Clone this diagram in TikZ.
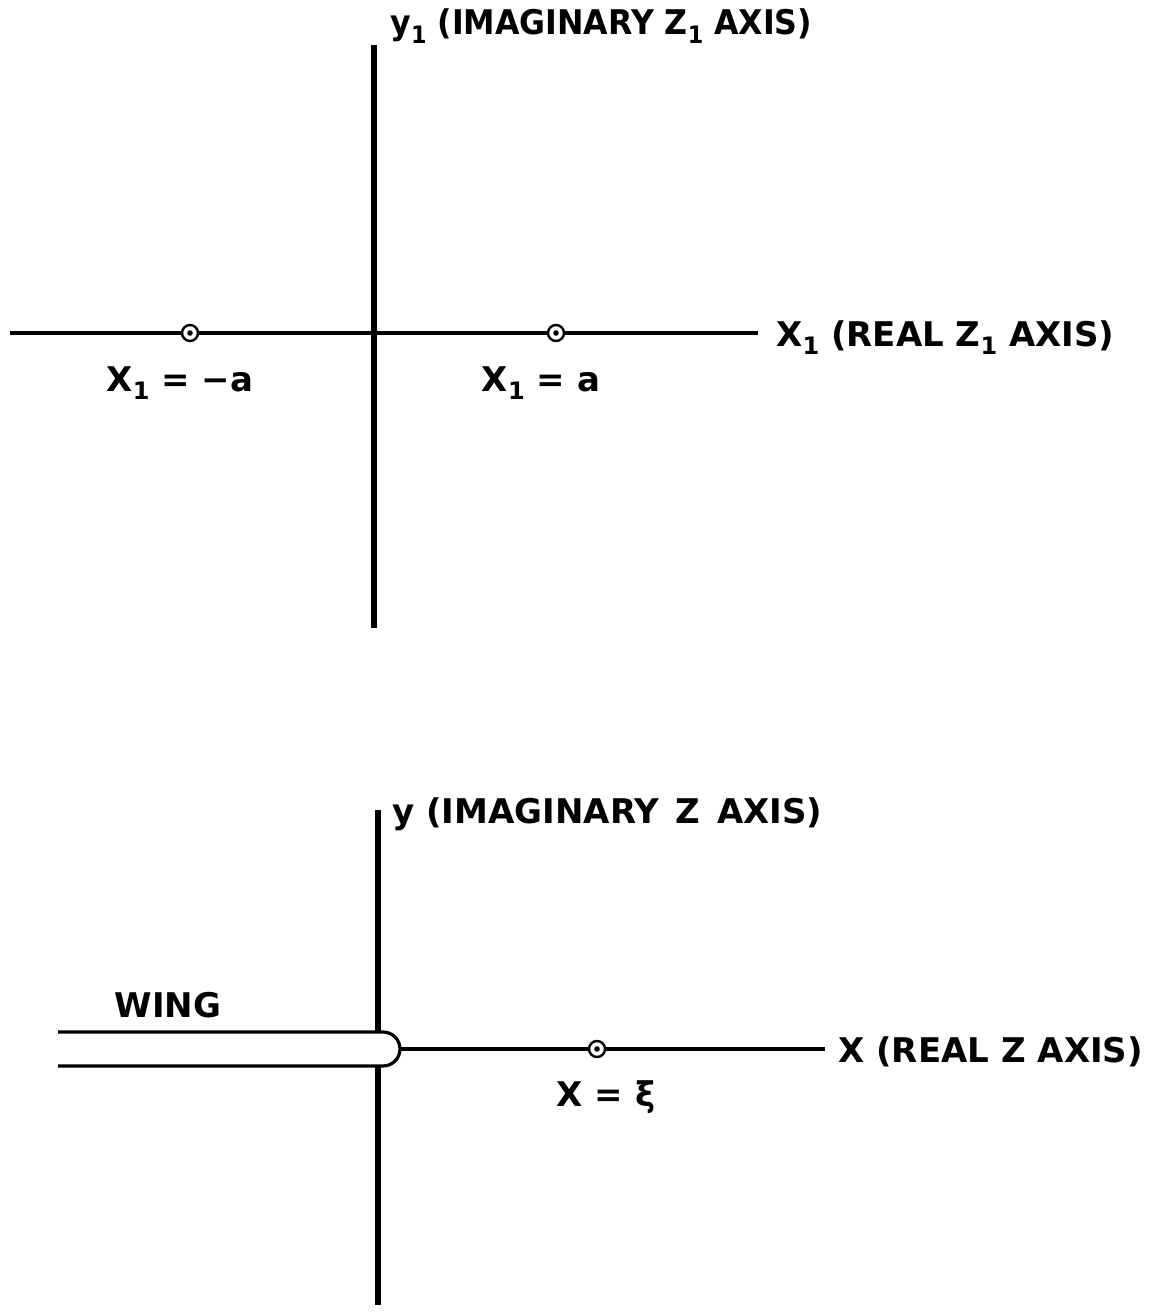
\documentclass[tikz,border=0pt]{standalone}
\usepackage{fontspec}
\setmainfont{DejaVu Sans}
\newcommand\lowidx[1]{\raisebox{-0.45ex}{\fontsize{12}{12}\selectfont #1}}
\begin{document}
\begin{tikzpicture}[x=0.5pt,y=-0.5pt,
  lbl/.style={font=\bfseries\fontsize{17}{19}\selectfont, inner sep=0pt},
  thinaxis/.style={line width=1.6pt},
  thickaxis/.style={line width=3pt},
  wingline/.style={line width=1.6pt},
  ptmark/.style={circle, draw, line width=1.2pt, fill=white, minimum size=8pt, inner sep=0pt,
    path picture={\fill[black] (path picture bounding box.center) circle (1.4pt);}},
]
\useasboundingbox (0,0) rectangle (1163,1316);

% ---------- top: z1 plane ----------
\coordinate (t1) at (374,45);
\coordinate (t2) at (374,628);
\coordinate (h1) at (10,333);
\coordinate (h2) at (758,333);
\draw[thinaxis] (h1) -- (h2);
\draw[thickaxis] (t1) -- (t2);
\node[ptmark] (pa) at (190,333) {};
\node[ptmark] (pb) at (556,333) {};
\node[lbl, anchor=base west] (ylab) at (390,35) {\scalebox{0.93}[1]{y\lowidx{1} (IMAGINARY Z\lowidx{1} AXIS)}};
\node[lbl, anchor=base west] (xlab) at (776,346) {X\lowidx{1} (REAL Z\lowidx{1} AXIS)};
\node[lbl, anchor=base] (la) at (180,391) {X\lowidx{1} = −a};
\node[lbl, anchor=base] (lb) at (541,391) {X\lowidx{1} = a};

% ---------- bottom: z plane ----------
\coordinate (v1) at (378,810);
\coordinate (v2) at (378,1305);
\coordinate (w1) at (58,1032);
\coordinate (w2) at (383,1032);
\coordinate (w3) at (383,1066);
\coordinate (w4) at (58,1066);
\coordinate (wn) at (400,1049);
\coordinate (g2) at (825,1049);
\draw[thickaxis] (v1) -- (v2);
\fill[white] (w1) -- (w2) arc[start angle=-90, end angle=90, radius=17] -- (w4) -- cycle;
\draw[wingline] (w1) -- (w2) arc[start angle=-90, end angle=90, radius=17] -- (w4);
\draw[thinaxis] (wn) -- (g2);
\node[ptmark] (pc) at (597,1049) {};
\node[lbl, anchor=base west] (ylab2) at (392,823) {y (IMAGINARY\hspace{2.5pt} Z\hspace{2.5pt} AXIS)};
\node[lbl, anchor=base west] (xlab2) at (838,1062) {X (REAL Z AXIS)};
\node[lbl, anchor=base] (wlab) at (168,1017) {WING};
\node[lbl, anchor=base] (lc) at (606,1106) {X = ξ};
\end{tikzpicture}
\end{document}
